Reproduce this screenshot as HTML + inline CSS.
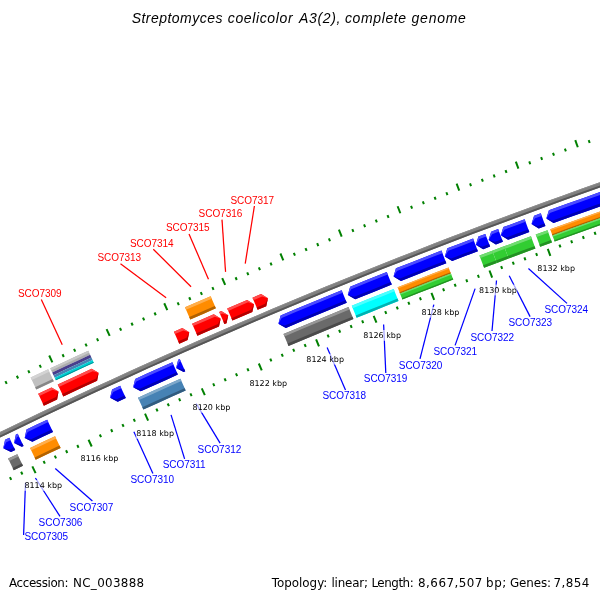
<!DOCTYPE html>
<html><head><meta charset="utf-8"><title>Streptomyces coelicolor A3(2), complete genome</title>
<style>
html,body{margin:0;padding:0;background:#fff;}
svg{display:block;}
text{font-family:"DejaVu Sans","Liberation Sans",sans-serif;}
.tk{font-size:8px;text-rendering:geometricPrecision;fill:#000;}
.lb{font-family:"Liberation Sans","DejaVu Sans",sans-serif;font-size:10px;letter-spacing:-0.05px;}
.ti{font-family:'Liberation Sans','DejaVu Sans',sans-serif;font-size:14px;font-style:italic;fill:#000;}
.ft{font-size:11.9px;fill:#000;}
</style></head><body>
<svg width="600" height="600" viewBox="0 0 600 600">
<rect width="600" height="600" fill="#ffffff"/>
<polygon points="-47.20,455.06 -29.71,446.45 -12.19,437.89 5.35,429.40 22.93,420.96 40.53,412.58 58.16,404.26 75.82,396.00 93.51,387.80 111.23,379.66 128.97,371.58 146.74,363.56 164.53,355.59 182.35,347.69 200.20,339.85 218.08,332.06 235.98,324.34 253.90,316.68 271.85,309.07 289.83,301.53 307.83,294.05 325.86,286.62 343.91,279.26 361.99,271.96 380.09,264.72 398.21,257.54 416.36,250.42 434.54,243.36 452.73,236.36 470.95,229.42 489.19,222.55 507.46,215.73 525.75,208.98 544.06,202.29 562.39,195.66 580.75,189.09 599.13,182.58 617.52,176.13 635.94,169.75 654.39,163.43 656.00,168.16 637.57,174.48 619.17,180.85 600.79,187.30 582.42,193.80 564.09,200.36 545.77,206.99 527.47,213.67 509.20,220.42 490.95,227.23 472.72,234.10 454.52,241.03 436.34,248.02 418.18,255.08 400.05,262.19 381.94,269.36 363.85,276.60 345.79,283.90 327.76,291.25 309.74,298.67 291.76,306.14 273.80,313.68 255.86,321.28 237.95,328.94 220.06,336.65 202.20,344.43 184.37,352.27 166.57,360.16 148.79,368.12 131.03,376.13 113.31,384.21 95.61,392.34 77.94,400.54 60.29,408.79 42.67,417.10 25.09,425.47 7.53,433.90 -10.01,442.39 -27.51,450.93 -44.98,459.54" fill="#808080"/>
<polygon points="-47.20,455.06 -29.71,446.45 -12.19,437.89 5.35,429.40 22.93,420.96 40.53,412.58 58.16,404.26 75.82,396.00 93.51,387.80 111.23,379.66 128.97,371.58 146.74,363.56 164.53,355.59 182.35,347.69 200.20,339.85 218.08,332.06 235.98,324.34 253.90,316.68 271.85,309.07 289.83,301.53 307.83,294.05 325.86,286.62 343.91,279.26 361.99,271.96 380.09,264.72 398.21,257.54 416.36,250.42 434.54,243.36 452.73,236.36 470.95,229.42 489.19,222.55 507.46,215.73 525.75,208.98 544.06,202.29 562.39,195.66 580.75,189.09 599.13,182.58 617.52,176.13 635.94,169.75 654.39,163.43 654.64,164.18 636.21,170.50 617.79,176.89 599.39,183.33 581.02,189.84 562.66,196.41 544.33,203.04 526.02,209.73 507.74,216.48 489.48,223.30 471.23,230.17 453.02,237.11 434.82,244.11 416.65,251.16 398.51,258.28 380.38,265.46 362.29,272.70 344.21,280.00 326.16,287.36 308.14,294.79 290.14,302.27 272.16,309.81 254.21,317.41 236.29,325.08 218.39,332.80 200.52,340.58 182.68,348.42 164.86,356.33 147.06,364.29 129.30,372.31 111.56,380.39 93.85,388.53 76.16,396.73 58.51,404.99 40.88,413.30 23.27,421.68 5.70,430.12 -11.84,438.61 -29.36,447.16 -46.85,455.78" fill="#8f8f8f"/>
<polygon points="-45.83,457.84 -28.35,449.23 -10.84,440.68 6.70,432.19 24.27,423.76 41.86,415.38 59.48,407.07 77.13,398.81 94.81,390.62 112.52,382.48 130.25,374.40 148.01,366.38 165.79,358.43 183.60,350.53 201.44,342.69 219.31,334.91 237.20,327.19 255.12,319.53 273.06,311.93 291.03,304.39 309.02,296.91 327.04,289.49 345.08,282.13 363.14,274.84 381.24,267.60 399.35,260.42 417.49,253.31 435.65,246.25 453.84,239.26 472.05,232.32 490.28,225.45 508.54,218.64 526.82,211.89 545.12,205.20 563.44,198.57 581.79,192.01 600.15,185.50 618.54,179.06 636.95,172.68 655.39,166.36 656.00,168.16 637.57,174.48 619.17,180.85 600.79,187.30 582.42,193.80 564.09,200.36 545.77,206.99 527.47,213.67 509.20,220.42 490.95,227.23 472.72,234.10 454.52,241.03 436.34,248.02 418.18,255.08 400.05,262.19 381.94,269.36 363.85,276.60 345.79,283.90 327.76,291.25 309.74,298.67 291.76,306.14 273.80,313.68 255.86,321.28 237.95,328.94 220.06,336.65 202.20,344.43 184.37,352.27 166.57,360.16 148.79,368.12 131.03,376.13 113.31,384.21 95.61,392.34 77.94,400.54 60.29,408.79 42.67,417.10 25.09,425.47 7.53,433.90 -10.01,442.39 -27.51,450.93 -44.98,459.54" fill="#565656"/>
<polygon points="38.21,393.71 51.47,387.47 58.54,391.44 57.08,399.41 43.85,405.64" fill="#ff0000"/>
<polygon points="38.21,393.71 51.47,387.47 58.54,391.44 52.59,389.86 39.34,396.10" fill="#ff4c4c"/>
<polygon points="42.73,403.26 55.96,397.02 58.54,391.44 57.08,399.41 43.85,405.64" fill="#b20000"/>
<polygon points="57.74,384.53 74.66,376.64 91.60,368.81 98.64,372.84 97.12,380.80 80.21,388.61 63.33,396.48" fill="#ff0000"/>
<polygon points="57.74,384.53 74.66,376.64 91.60,368.81 98.64,372.84 92.70,371.21 75.77,379.04 58.86,386.92" fill="#ff4c4c"/>
<polygon points="62.21,394.09 79.10,386.22 96.01,378.40 98.64,372.84 97.12,380.80 80.21,388.61 63.33,396.48" fill="#b20000"/>
<polygon points="173.93,331.68 182.29,328.00 189.26,332.14 187.60,340.08 179.26,343.75" fill="#ff0000"/>
<polygon points="173.93,331.68 182.29,328.00 189.26,332.14 183.35,330.41 175.00,334.09" fill="#ff4c4c"/>
<polygon points="178.20,341.34 186.54,337.66 189.26,332.14 187.60,340.08 179.26,343.75" fill="#b20000"/>
<polygon points="192.12,323.68 202.93,318.96 213.74,314.27 220.69,318.46 218.99,326.38 208.20,331.07 197.41,335.77" fill="#ff0000"/>
<polygon points="192.12,323.68 202.93,318.96 213.74,314.27 220.69,318.46 214.79,316.69 203.98,321.39 193.18,326.10" fill="#ff4c4c"/>
<polygon points="196.35,333.36 207.14,328.65 217.94,323.96 220.69,318.46 218.99,326.38 208.20,331.07 197.41,335.77" fill="#b20000"/>
<polygon points="219.18,311.92 221.30,311.01 228.24,315.20 226.52,323.13 224.41,324.04" fill="#ff0000"/>
<polygon points="219.18,311.92 221.30,311.01 228.24,315.20 222.34,313.43 220.23,314.34" fill="#ff4c4c"/>
<polygon points="223.36,321.62 225.48,320.70 228.24,315.20 226.52,323.13 224.41,324.04" fill="#b20000"/>
<polygon points="227.20,308.47 237.16,304.20 247.13,299.94 254.05,304.17 252.30,312.09 242.35,316.33 232.41,320.59" fill="#ff0000"/>
<polygon points="227.20,308.47 237.16,304.20 247.13,299.94 254.05,304.17 248.16,302.37 238.20,306.62 228.24,310.89" fill="#ff4c4c"/>
<polygon points="231.37,318.17 241.31,313.91 251.26,309.66 254.05,304.17 252.30,312.09 242.35,316.33 232.41,320.59" fill="#b20000"/>
<polygon points="252.48,297.67 261.08,294.03 267.99,298.28 266.22,306.19 257.64,309.82" fill="#ff0000"/>
<polygon points="252.48,297.67 261.08,294.03 267.99,298.28 262.11,296.46 253.52,300.10" fill="#ff4c4c"/>
<polygon points="256.61,307.39 265.19,303.76 267.99,298.28 266.22,306.19 257.64,309.82" fill="#b20000"/>
<polygon points="30.61,377.62 48.19,369.34 53.79,381.30 36.25,389.55" fill="#c0c0c0"/>
<polygon points="30.61,377.62 48.19,369.34 49.31,371.74 31.74,380.00" fill="#d3d3d3"/>
<polygon points="35.12,387.16 52.67,378.91 53.79,381.30 36.25,389.55" fill="#868686"/>
<polygon points="50.28,368.36 62.93,362.46 75.59,356.59 88.27,350.75 90.14,354.83 77.48,360.66 64.82,366.53 52.19,372.43" fill="#acacac"/>
<polygon points="52.19,372.43 64.82,366.53 77.48,360.66 90.14,354.83 91.41,357.58 78.75,363.42 66.11,369.28 53.47,375.18" fill="#483d8b"/>
<polygon points="53.47,375.18 66.11,369.28 78.75,363.42 91.41,357.58 92.57,360.10 79.91,365.93 67.27,371.80 54.65,377.69" fill="#4682b4"/>
<polygon points="54.65,377.69 67.27,371.80 79.91,365.93 92.57,360.10 93.78,362.74 81.13,368.57 68.50,374.43 55.88,380.32" fill="#00ced1"/>
<polygon points="50.28,368.36 62.93,362.46 75.59,356.59 88.27,350.75 89.21,352.79 76.54,358.63 63.88,364.50 51.23,370.40" fill="#c8c8c8"/>
<polygon points="55.49,379.48 68.11,373.59 80.75,367.73 93.40,361.90 93.78,362.74 81.13,368.57 68.50,374.43 55.88,380.32" fill="#009092"/>
<polygon points="184.98,307.37 197.81,301.78 210.65,296.22 215.88,308.33 203.07,313.89 190.28,319.47" fill="#ff8c00"/>
<polygon points="184.98,307.37 197.81,301.78 210.65,296.22 211.69,298.64 198.86,304.20 186.04,309.79" fill="#ffae4c"/>
<polygon points="189.22,317.05 202.02,311.46 214.83,305.91 215.88,308.33 203.07,313.89 190.28,319.47" fill="#b26200"/>
<polygon points="9.32,437.75 5.09,439.80 3.27,448.20 10.98,452.00 15.20,449.96" fill="#0000ff"/>
<polygon points="9.32,437.75 5.09,439.80 3.27,448.20 6.27,442.24 10.49,440.20" fill="#4c4cff"/>
<polygon points="14.02,447.52 9.80,449.56 3.27,448.20 10.98,452.00 15.20,449.96" fill="#0000b2"/>
<polygon points="17.69,433.73 15.89,434.59 14.06,442.99 21.75,446.81 23.55,445.94" fill="#0000ff"/>
<polygon points="17.69,433.73 15.89,434.59 14.06,442.99 17.06,437.04 18.86,436.17" fill="#4c4cff"/>
<polygon points="22.38,443.50 20.58,444.36 14.06,442.99 21.75,446.81 23.55,445.94" fill="#0000b2"/>
<polygon points="47.17,419.67 36.84,424.58 26.51,429.50 24.67,437.89 32.36,441.72 42.66,436.81 52.97,431.92" fill="#0000ff"/>
<polygon points="47.17,419.67 36.84,424.58 26.51,429.50 24.67,437.89 27.68,431.94 38.00,427.02 48.33,422.12" fill="#4c4cff"/>
<polygon points="51.81,429.47 41.49,434.36 31.19,439.28 24.67,437.89 32.36,441.72 42.66,436.81 52.97,431.92" fill="#0000b2"/>
<polygon points="120.18,385.74 112.09,389.44 110.11,397.80 117.74,401.76 125.80,398.07" fill="#0000ff"/>
<polygon points="120.18,385.74 112.09,389.44 110.11,397.80 113.22,391.90 121.30,388.21" fill="#4c4cff"/>
<polygon points="124.68,395.60 116.61,399.29 110.11,397.80 117.74,401.76 125.80,398.07" fill="#0000b2"/>
<polygon points="172.36,362.24 159.95,367.77 147.56,373.33 135.18,378.92 133.16,387.28 140.77,391.26 153.12,385.69 165.49,380.14 177.86,374.62" fill="#0000ff"/>
<polygon points="172.36,362.24 159.95,367.77 147.56,373.33 135.18,378.92 133.16,387.28 136.30,381.39 148.67,375.80 161.06,370.24 173.46,364.71" fill="#4c4cff"/>
<polygon points="176.76,372.14 164.38,377.66 152.01,383.21 139.65,388.79 133.16,387.28 140.77,391.26 153.12,385.69 165.49,380.14 177.86,374.62" fill="#0000b2"/>
<polygon points="179.75,358.95 178.20,359.64 176.11,367.98 183.69,372.03 185.24,371.34" fill="#0000ff"/>
<polygon points="179.75,358.95 178.20,359.64 176.11,367.98 179.30,362.12 180.85,361.43" fill="#4c4cff"/>
<polygon points="184.14,368.87 182.59,369.55 176.11,367.98 183.69,372.03 185.24,371.34" fill="#0000b2"/>
<polygon points="341.64,290.17 326.36,296.42 311.10,302.71 295.85,309.04 280.63,315.41 278.38,323.71 285.88,327.91 301.07,321.54 316.28,315.23 331.50,308.95 346.75,302.72" fill="#0000ff"/>
<polygon points="341.64,290.17 326.36,296.42 311.10,302.71 295.85,309.04 280.63,315.41 278.38,323.71 281.68,317.91 296.90,311.54 312.13,305.21 327.39,298.92 342.66,292.68" fill="#4c4cff"/>
<polygon points="345.72,300.21 330.47,306.45 315.24,312.72 300.03,319.04 284.83,325.41 278.38,323.71 285.88,327.91 301.07,321.54 316.28,315.23 331.50,308.95 346.75,302.72" fill="#0000b2"/>
<polygon points="386.77,272.02 368.45,279.33 350.15,286.71 347.80,294.98 355.24,299.27 373.49,291.91 391.77,284.61" fill="#0000ff"/>
<polygon points="386.77,272.02 368.45,279.33 350.15,286.71 347.80,294.98 351.17,289.23 369.46,281.85 387.77,274.54" fill="#4c4cff"/>
<polygon points="390.77,282.09 372.48,289.39 354.22,296.76 347.80,294.98 355.24,299.27 373.49,291.91 391.77,284.61" fill="#0000b2"/>
<polygon points="441.45,250.60 426.27,256.48 411.11,262.41 395.96,268.37 393.53,276.62 400.94,280.97 416.05,275.02 431.18,269.11 446.33,263.25" fill="#0000ff"/>
<polygon points="441.45,250.60 426.27,256.48 411.11,262.41 395.96,268.37 393.53,276.62 396.96,270.89 412.10,264.93 427.25,259.01 442.43,253.13" fill="#4c4cff"/>
<polygon points="445.36,260.72 430.20,266.59 415.07,272.50 399.94,278.45 393.53,276.62 400.94,280.97 416.05,275.02 431.18,269.11 446.33,263.25" fill="#0000b2"/>
<polygon points="473.08,238.51 460.20,243.41 447.33,248.34 444.82,256.57 452.19,260.99 465.03,256.07 477.88,251.18" fill="#0000ff"/>
<polygon points="473.08,238.51 460.20,243.41 447.33,248.34 444.82,256.57 448.30,250.87 461.16,245.94 474.04,241.04" fill="#4c4cff"/>
<polygon points="476.92,248.65 464.06,253.54 451.22,258.46 444.82,256.57 452.19,260.99 465.03,256.07 477.88,251.18" fill="#0000b2"/>
<polygon points="485.32,233.89 478.41,236.49 475.86,244.70 483.20,249.17 490.10,246.57" fill="#0000ff"/>
<polygon points="485.32,233.89 478.41,236.49 475.86,244.70 479.36,239.03 486.28,236.42" fill="#4c4cff"/>
<polygon points="489.14,244.03 482.24,246.63 475.86,244.70 483.20,249.17 490.10,246.57" fill="#0000b2"/>
<polygon points="498.13,229.08 491.12,231.71 488.55,239.91 495.88,244.39 502.88,241.77" fill="#0000ff"/>
<polygon points="498.13,229.08 491.12,231.71 488.55,239.91 492.07,234.24 499.08,231.62" fill="#4c4cff"/>
<polygon points="501.93,239.23 494.93,241.86 488.55,239.91 495.88,244.39 502.88,241.77" fill="#0000b2"/>
<polygon points="524.64,219.25 514.00,223.17 503.37,227.12 500.79,235.32 508.11,239.82 518.71,235.88 529.32,231.96" fill="#0000ff"/>
<polygon points="524.64,219.25 514.00,223.17 503.37,227.12 500.79,235.32 504.32,229.66 514.94,225.72 525.57,221.79" fill="#4c4cff"/>
<polygon points="528.38,229.42 517.77,233.34 507.16,237.28 500.79,235.32 508.11,239.82 518.71,235.88 529.32,231.96" fill="#0000b2"/>
<polygon points="540.77,213.33 534.11,215.77 531.47,223.95 538.77,228.49 545.41,226.06" fill="#0000ff"/>
<polygon points="540.77,213.33 534.11,215.77 531.47,223.95 535.04,218.31 541.69,215.88" fill="#4c4cff"/>
<polygon points="544.48,223.52 537.83,225.95 531.47,223.95 538.77,228.49 545.41,226.06" fill="#0000b2"/>
<polygon points="657.37,172.18 639.25,178.39 621.14,184.67 603.06,191.00 584.99,197.39 566.95,203.85 548.93,210.36 546.28,218.53 553.56,223.10 571.54,216.60 589.54,210.16 607.56,203.78 625.60,197.46 643.66,191.21 661.74,185.01" fill="#0000ff"/>
<polygon points="657.37,172.18 639.25,178.39 621.14,184.67 603.06,191.00 584.99,197.39 566.95,203.85 548.93,210.36 546.28,218.53 549.86,212.91 567.87,206.40 585.90,199.95 603.96,193.56 622.03,187.23 640.13,180.96 658.25,174.75" fill="#4c4cff"/>
<polygon points="660.87,182.44 642.78,188.64 624.71,194.91 606.66,201.23 588.63,207.61 570.62,214.05 552.63,220.55 546.28,218.53 553.56,223.10 571.54,216.60 589.54,210.16 607.56,203.78 625.60,197.46 643.66,191.21 661.74,185.01" fill="#0000b2"/>
<polygon points="8.10,458.61 17.33,454.15 22.98,465.86 13.76,470.31" fill="#6a6a6a"/>
<polygon points="8.10,458.61 17.33,454.15 18.46,456.49 9.23,460.95" fill="#979797"/>
<polygon points="12.63,467.97 21.85,463.52 22.98,465.86 13.76,470.31" fill="#4a4a4a"/>
<polygon points="30.07,448.03 42.56,442.06 55.07,436.13 60.63,447.88 48.15,453.80 35.69,459.75" fill="#ff8c00"/>
<polygon points="30.07,448.03 42.56,442.06 55.07,436.13 56.18,438.48 43.68,444.41 31.20,450.37" fill="#ffae4c"/>
<polygon points="34.57,457.41 47.03,451.45 59.52,445.53 60.63,447.88 48.15,453.80 35.69,459.75" fill="#b26200"/>
<polygon points="137.99,397.68 152.11,391.29 166.25,384.94 180.41,378.63 185.69,390.51 171.56,396.81 157.46,403.14 143.37,409.52" fill="#4682b4"/>
<polygon points="137.99,397.68 152.11,391.29 166.25,384.94 180.41,378.63 181.47,381.00 167.32,387.32 153.18,393.66 139.07,400.05" fill="#7ea8ca"/>
<polygon points="142.29,407.15 156.39,400.77 170.50,394.43 184.63,388.13 185.69,390.51 171.56,396.81 157.46,403.14 143.37,409.52" fill="#315b7e"/>
<polygon points="283.48,334.02 299.71,327.21 315.96,320.45 332.23,313.74 348.52,307.07 353.42,319.12 337.17,325.76 320.93,332.46 304.72,339.20 288.53,346.00" fill="#6a6a6a"/>
<polygon points="283.48,334.02 299.71,327.21 315.96,320.45 332.23,313.74 348.52,307.07 349.50,309.48 333.22,316.14 316.95,322.85 300.71,329.61 284.49,336.41" fill="#979797"/>
<polygon points="287.52,343.60 303.72,336.80 319.94,330.05 336.18,323.36 352.44,316.71 353.42,319.12 337.17,325.76 320.93,332.46 304.72,339.20 288.53,346.00" fill="#4a4a4a"/>
<polygon points="351.75,305.76 365.71,300.11 379.69,294.49 393.69,288.90 398.49,300.99 384.53,306.56 370.58,312.16 356.64,317.80" fill="#00ffff"/>
<polygon points="351.75,305.76 365.71,300.11 379.69,294.49 393.69,288.90 394.65,291.32 380.66,296.90 366.69,302.52 352.73,308.17" fill="#4cffff"/>
<polygon points="355.66,315.40 369.60,309.75 383.56,304.14 397.53,298.57 398.49,300.99 384.53,306.56 370.58,312.16 356.64,317.80" fill="#00b2b2"/>
<polygon points="397.58,287.36 414.56,280.66 431.56,274.01 448.58,267.42 450.92,273.48 433.92,280.07 416.93,286.71 399.97,293.40" fill="#ff8c00"/>
<polygon points="397.58,287.36 414.56,280.66 431.56,274.01 448.58,267.42 449.05,268.63 432.03,275.22 415.03,281.87 398.06,288.57" fill="#ffae4c"/>
<polygon points="399.49,292.20 416.46,285.50 433.44,278.86 450.45,272.27 450.92,273.48 433.92,280.07 416.93,286.71 399.97,293.40" fill="#b26200"/>
<polygon points="399.97,293.40 416.93,286.71 433.92,280.07 450.92,273.48 453.26,279.55 436.27,286.13 419.31,292.76 402.37,299.45" fill="#32cd32"/>
<polygon points="399.97,293.40 416.93,286.71 433.92,280.07 450.92,273.48 451.39,274.69 434.39,281.28 417.41,287.92 400.45,294.61" fill="#70dc70"/>
<polygon points="401.89,298.24 418.84,291.55 435.80,284.91 452.79,278.33 453.26,279.55 436.27,286.13 419.31,292.76 402.37,299.45" fill="#239023"/>
<polygon points="479.46,255.61 492.22,250.79 496.80,262.96 484.07,267.77" fill="#32cd32"/>
<polygon points="479.46,255.61 492.22,250.79 493.13,253.22 480.38,258.04" fill="#70dc70"/>
<polygon points="483.14,265.33 495.88,260.52 496.80,262.96 484.07,267.77" fill="#239023"/>
<polygon points="492.22,250.79 504.06,246.35 508.61,258.52 496.80,262.96" fill="#32cd32"/>
<polygon points="492.22,250.79 504.06,246.35 504.97,248.78 493.13,253.22" fill="#70dc70"/>
<polygon points="495.88,260.52 507.70,256.09 508.61,258.52 496.80,262.96" fill="#239023"/>
<polygon points="504.06,246.35 517.49,241.34 530.94,236.37 535.44,248.57 522.02,253.53 508.61,258.52" fill="#32cd32"/>
<polygon points="504.06,246.35 517.49,241.34 530.94,236.37 531.84,238.81 518.40,243.78 504.97,248.78" fill="#70dc70"/>
<polygon points="507.70,256.09 521.11,251.09 534.54,246.13 535.44,248.57 522.02,253.53 508.61,258.52" fill="#239023"/>
<polygon points="535.71,234.62 547.49,230.31 551.95,242.52 540.19,246.82" fill="#32cd32"/>
<polygon points="535.71,234.62 547.49,230.31 548.38,232.75 536.60,237.06" fill="#70dc70"/>
<polygon points="539.29,244.38 551.05,240.08 551.95,242.52 540.19,246.82" fill="#239023"/>
<polygon points="550.20,229.32 566.30,223.48 582.42,217.69 598.56,211.95 614.71,206.25 630.88,200.60 647.06,195.01 663.26,189.45 665.36,195.61 649.18,201.15 633.01,206.74 616.86,212.38 600.73,218.07 584.61,223.81 568.51,229.59 552.43,235.42" fill="#ff8c00"/>
<polygon points="550.20,229.32 566.30,223.48 582.42,217.69 598.56,211.95 614.71,206.25 630.88,200.60 647.06,195.01 663.26,189.45 663.68,190.68 647.48,196.23 631.30,201.83 615.14,207.48 598.99,213.17 582.86,218.91 566.74,224.70 550.65,230.54" fill="#ffae4c"/>
<polygon points="551.98,234.20 568.07,228.37 584.17,222.59 600.29,216.85 616.43,211.16 632.58,205.52 648.75,199.92 664.94,194.38 665.36,195.61 649.18,201.15 633.01,206.74 616.86,212.38 600.73,218.07 584.61,223.81 568.51,229.59 552.43,235.42" fill="#b26200"/>
<polygon points="552.43,235.42 568.51,229.59 584.61,223.81 600.73,218.07 616.86,212.38 633.01,206.74 649.18,201.15 665.36,195.61 667.46,201.76 651.29,207.30 635.14,212.88 619.01,218.52 602.90,224.20 586.80,229.93 570.72,235.71 554.65,241.53" fill="#32cd32"/>
<polygon points="552.43,235.42 568.51,229.59 584.61,223.81 600.73,218.07 616.86,212.38 633.01,206.74 649.18,201.15 665.36,195.61 665.78,196.84 649.60,202.38 633.44,207.97 617.29,213.61 601.16,219.30 585.05,225.03 568.95,230.82 552.87,236.65" fill="#70dc70"/>
<polygon points="554.21,240.31 570.28,234.48 586.36,228.71 602.46,222.97 618.58,217.29 634.72,211.66 650.87,206.07 667.04,200.53 667.46,201.76 651.29,207.30 635.14,212.88 619.01,218.52 602.90,224.20 586.80,229.93 570.72,235.71 554.65,241.53" fill="#239023"/>
<line x1="6.72" y1="383.87" x2="5.43" y2="381.17" stroke="#008000" stroke-width="2"/>
<line x1="18.12" y1="378.45" x2="16.83" y2="375.74" stroke="#008000" stroke-width="2"/>
<line x1="29.52" y1="373.04" x2="28.24" y2="370.33" stroke="#008000" stroke-width="2"/>
<line x1="40.94" y1="367.66" x2="39.67" y2="364.95" stroke="#008000" stroke-width="2"/>
<line x1="52.37" y1="362.31" x2="49.20" y2="355.51" stroke="#008000" stroke-width="2"/>
<line x1="63.81" y1="356.98" x2="62.55" y2="354.26" stroke="#008000" stroke-width="2"/>
<line x1="75.26" y1="351.67" x2="74.01" y2="348.95" stroke="#008000" stroke-width="2"/>
<line x1="86.73" y1="346.39" x2="85.47" y2="343.67" stroke="#008000" stroke-width="2"/>
<line x1="98.20" y1="341.14" x2="96.96" y2="338.41" stroke="#008000" stroke-width="2"/>
<line x1="109.69" y1="335.91" x2="106.59" y2="329.08" stroke="#008000" stroke-width="2"/>
<line x1="121.19" y1="330.70" x2="119.95" y2="327.97" stroke="#008000" stroke-width="2"/>
<line x1="132.69" y1="325.52" x2="131.47" y2="322.78" stroke="#008000" stroke-width="2"/>
<line x1="144.21" y1="320.36" x2="142.99" y2="317.62" stroke="#008000" stroke-width="2"/>
<line x1="155.75" y1="315.23" x2="154.53" y2="312.49" stroke="#008000" stroke-width="2"/>
<line x1="167.29" y1="310.13" x2="164.26" y2="303.26" stroke="#008000" stroke-width="2"/>
<line x1="178.84" y1="305.04" x2="177.64" y2="302.30" stroke="#008000" stroke-width="2"/>
<line x1="190.40" y1="299.99" x2="189.21" y2="297.24" stroke="#008000" stroke-width="2"/>
<line x1="201.98" y1="294.95" x2="200.79" y2="292.20" stroke="#008000" stroke-width="2"/>
<line x1="213.56" y1="289.95" x2="212.38" y2="287.19" stroke="#008000" stroke-width="2"/>
<line x1="225.16" y1="284.97" x2="222.21" y2="278.07" stroke="#008000" stroke-width="2"/>
<line x1="236.77" y1="280.01" x2="235.59" y2="277.25" stroke="#008000" stroke-width="2"/>
<line x1="248.39" y1="275.08" x2="247.22" y2="272.31" stroke="#008000" stroke-width="2"/>
<line x1="260.01" y1="270.17" x2="258.85" y2="267.40" stroke="#008000" stroke-width="2"/>
<line x1="271.65" y1="265.29" x2="270.50" y2="262.52" stroke="#008000" stroke-width="2"/>
<line x1="283.30" y1="260.43" x2="280.42" y2="253.50" stroke="#008000" stroke-width="2"/>
<line x1="294.96" y1="255.60" x2="293.82" y2="252.83" stroke="#008000" stroke-width="2"/>
<line x1="306.63" y1="250.79" x2="305.49" y2="248.02" stroke="#008000" stroke-width="2"/>
<line x1="318.31" y1="246.01" x2="317.18" y2="243.23" stroke="#008000" stroke-width="2"/>
<line x1="330.00" y1="241.25" x2="328.88" y2="238.47" stroke="#008000" stroke-width="2"/>
<line x1="341.70" y1="236.52" x2="338.90" y2="229.57" stroke="#008000" stroke-width="2"/>
<line x1="353.42" y1="231.82" x2="352.30" y2="229.03" stroke="#008000" stroke-width="2"/>
<line x1="365.14" y1="227.13" x2="364.03" y2="224.35" stroke="#008000" stroke-width="2"/>
<line x1="376.87" y1="222.48" x2="375.76" y2="219.69" stroke="#008000" stroke-width="2"/>
<line x1="388.61" y1="217.85" x2="387.51" y2="215.06" stroke="#008000" stroke-width="2"/>
<line x1="400.36" y1="213.24" x2="397.63" y2="206.26" stroke="#008000" stroke-width="2"/>
<line x1="412.12" y1="208.66" x2="411.04" y2="205.87" stroke="#008000" stroke-width="2"/>
<line x1="423.89" y1="204.11" x2="422.81" y2="201.31" stroke="#008000" stroke-width="2"/>
<line x1="435.67" y1="199.58" x2="434.60" y2="196.78" stroke="#008000" stroke-width="2"/>
<line x1="447.46" y1="195.08" x2="446.40" y2="192.27" stroke="#008000" stroke-width="2"/>
<line x1="459.26" y1="190.60" x2="456.61" y2="183.58" stroke="#008000" stroke-width="2"/>
<line x1="471.07" y1="186.15" x2="470.02" y2="183.34" stroke="#008000" stroke-width="2"/>
<line x1="482.89" y1="181.72" x2="481.84" y2="178.91" stroke="#008000" stroke-width="2"/>
<line x1="494.72" y1="177.32" x2="493.68" y2="174.50" stroke="#008000" stroke-width="2"/>
<line x1="506.56" y1="172.94" x2="505.52" y2="170.12" stroke="#008000" stroke-width="2"/>
<line x1="518.41" y1="168.59" x2="515.83" y2="161.55" stroke="#008000" stroke-width="2"/>
<line x1="530.26" y1="164.26" x2="529.24" y2="161.44" stroke="#008000" stroke-width="2"/>
<line x1="542.13" y1="159.96" x2="541.11" y2="157.14" stroke="#008000" stroke-width="2"/>
<line x1="554.01" y1="155.69" x2="552.99" y2="152.87" stroke="#008000" stroke-width="2"/>
<line x1="565.89" y1="151.44" x2="564.88" y2="148.61" stroke="#008000" stroke-width="2"/>
<line x1="577.78" y1="147.22" x2="575.28" y2="140.15" stroke="#008000" stroke-width="2"/>
<line x1="589.69" y1="143.02" x2="588.69" y2="140.19" stroke="#008000" stroke-width="2"/>
<line x1="9.94" y1="477.17" x2="11.25" y2="479.87" stroke="#008000" stroke-width="2"/>
<line x1="21.13" y1="471.75" x2="22.44" y2="474.45" stroke="#008000" stroke-width="2"/>
<line x1="32.34" y1="466.35" x2="35.58" y2="473.11" stroke="#008000" stroke-width="2"/>
<line x1="43.55" y1="460.98" x2="44.85" y2="463.68" stroke="#008000" stroke-width="2"/>
<line x1="54.78" y1="455.63" x2="56.07" y2="458.34" stroke="#008000" stroke-width="2"/>
<line x1="66.02" y1="450.30" x2="67.30" y2="453.02" stroke="#008000" stroke-width="2"/>
<line x1="77.27" y1="445.00" x2="78.55" y2="447.72" stroke="#008000" stroke-width="2"/>
<line x1="88.54" y1="439.73" x2="91.71" y2="446.52" stroke="#008000" stroke-width="2"/>
<line x1="99.81" y1="434.48" x2="101.07" y2="437.20" stroke="#008000" stroke-width="2"/>
<line x1="111.10" y1="429.25" x2="112.35" y2="431.97" stroke="#008000" stroke-width="2"/>
<line x1="122.39" y1="424.05" x2="123.64" y2="426.77" stroke="#008000" stroke-width="2"/>
<line x1="133.70" y1="418.87" x2="134.95" y2="421.60" stroke="#008000" stroke-width="2"/>
<line x1="145.02" y1="413.71" x2="148.12" y2="420.54" stroke="#008000" stroke-width="2"/>
<line x1="156.35" y1="408.58" x2="157.58" y2="411.32" stroke="#008000" stroke-width="2"/>
<line x1="167.69" y1="403.48" x2="168.92" y2="406.21" stroke="#008000" stroke-width="2"/>
<line x1="179.04" y1="398.40" x2="180.26" y2="401.13" stroke="#008000" stroke-width="2"/>
<line x1="190.40" y1="393.34" x2="191.62" y2="396.08" stroke="#008000" stroke-width="2"/>
<line x1="201.78" y1="388.31" x2="204.81" y2="395.17" stroke="#008000" stroke-width="2"/>
<line x1="213.16" y1="383.30" x2="214.37" y2="386.05" stroke="#008000" stroke-width="2"/>
<line x1="224.56" y1="378.31" x2="225.76" y2="381.06" stroke="#008000" stroke-width="2"/>
<line x1="235.96" y1="373.36" x2="237.16" y2="376.11" stroke="#008000" stroke-width="2"/>
<line x1="247.38" y1="368.42" x2="248.57" y2="371.18" stroke="#008000" stroke-width="2"/>
<line x1="258.81" y1="363.51" x2="261.76" y2="370.41" stroke="#008000" stroke-width="2"/>
<line x1="270.25" y1="358.63" x2="271.42" y2="361.39" stroke="#008000" stroke-width="2"/>
<line x1="281.69" y1="353.77" x2="282.86" y2="356.53" stroke="#008000" stroke-width="2"/>
<line x1="293.15" y1="348.93" x2="294.32" y2="351.70" stroke="#008000" stroke-width="2"/>
<line x1="304.62" y1="344.12" x2="305.78" y2="346.89" stroke="#008000" stroke-width="2"/>
<line x1="316.10" y1="339.33" x2="318.98" y2="346.26" stroke="#008000" stroke-width="2"/>
<line x1="327.59" y1="334.57" x2="328.74" y2="337.35" stroke="#008000" stroke-width="2"/>
<line x1="339.09" y1="329.84" x2="340.23" y2="332.61" stroke="#008000" stroke-width="2"/>
<line x1="350.60" y1="325.12" x2="351.73" y2="327.90" stroke="#008000" stroke-width="2"/>
<line x1="362.12" y1="320.44" x2="363.25" y2="323.22" stroke="#008000" stroke-width="2"/>
<line x1="373.65" y1="315.77" x2="376.46" y2="322.73" stroke="#008000" stroke-width="2"/>
<line x1="385.19" y1="311.14" x2="386.31" y2="313.92" stroke="#008000" stroke-width="2"/>
<line x1="396.74" y1="306.52" x2="397.85" y2="309.31" stroke="#008000" stroke-width="2"/>
<line x1="408.30" y1="301.94" x2="409.41" y2="304.73" stroke="#008000" stroke-width="2"/>
<line x1="419.87" y1="297.37" x2="420.97" y2="300.17" stroke="#008000" stroke-width="2"/>
<line x1="431.45" y1="292.84" x2="434.18" y2="299.82" stroke="#008000" stroke-width="2"/>
<line x1="443.04" y1="288.32" x2="444.13" y2="291.12" stroke="#008000" stroke-width="2"/>
<line x1="454.64" y1="283.84" x2="455.72" y2="286.63" stroke="#008000" stroke-width="2"/>
<line x1="466.25" y1="279.37" x2="467.32" y2="282.17" stroke="#008000" stroke-width="2"/>
<line x1="477.87" y1="274.93" x2="478.94" y2="277.74" stroke="#008000" stroke-width="2"/>
<line x1="489.50" y1="270.52" x2="492.15" y2="277.54" stroke="#008000" stroke-width="2"/>
<line x1="501.13" y1="266.13" x2="502.19" y2="268.94" stroke="#008000" stroke-width="2"/>
<line x1="512.78" y1="261.77" x2="513.83" y2="264.58" stroke="#008000" stroke-width="2"/>
<line x1="524.44" y1="257.43" x2="525.48" y2="260.25" stroke="#008000" stroke-width="2"/>
<line x1="536.10" y1="253.12" x2="537.14" y2="255.93" stroke="#008000" stroke-width="2"/>
<line x1="547.78" y1="248.83" x2="550.36" y2="255.88" stroke="#008000" stroke-width="2"/>
<line x1="559.46" y1="244.57" x2="560.49" y2="247.39" stroke="#008000" stroke-width="2"/>
<line x1="571.16" y1="240.33" x2="572.17" y2="243.15" stroke="#008000" stroke-width="2"/>
<line x1="582.86" y1="236.12" x2="583.87" y2="238.94" stroke="#008000" stroke-width="2"/>
<line x1="594.57" y1="231.93" x2="595.58" y2="234.76" stroke="#008000" stroke-width="2"/>
<line x1="62.25" y1="344.64" x2="41.3" y2="299.5" stroke="#ff0000" stroke-width="1.25"/>
<line x1="166.10" y1="297.70" x2="120.5" y2="263.7" stroke="#ff0000" stroke-width="1.25"/>
<line x1="191.06" y1="286.78" x2="153.3" y2="249.2" stroke="#ff0000" stroke-width="1.25"/>
<line x1="208.48" y1="279.24" x2="189" y2="234" stroke="#ff0000" stroke-width="1.25"/>
<line x1="225.55" y1="271.91" x2="222" y2="219.6" stroke="#ff0000" stroke-width="1.25"/>
<line x1="245.24" y1="263.54" x2="254.4" y2="206" stroke="#ff0000" stroke-width="1.25"/>
<line x1="25.50" y1="482.74" x2="23.6" y2="535" stroke="#0000ff" stroke-width="1.25"/>
<line x1="35.41" y1="477.97" x2="60" y2="516.4" stroke="#0000ff" stroke-width="1.25"/>
<line x1="55.25" y1="468.47" x2="92.4" y2="501" stroke="#0000ff" stroke-width="1.25"/>
<line x1="133.88" y1="431.76" x2="152.9" y2="473.4" stroke="#0000ff" stroke-width="1.25"/>
<line x1="171.05" y1="414.90" x2="184.6" y2="458.9" stroke="#0000ff" stroke-width="1.25"/>
<line x1="196.20" y1="403.68" x2="220.1" y2="443.1" stroke="#0000ff" stroke-width="1.25"/>
<line x1="327.13" y1="347.53" x2="345.5" y2="390" stroke="#0000ff" stroke-width="1.25"/>
<line x1="383.63" y1="324.48" x2="385.8" y2="373" stroke="#0000ff" stroke-width="1.25"/>
<line x1="433.82" y1="304.58" x2="420" y2="358.8" stroke="#0000ff" stroke-width="1.25"/>
<line x1="475.12" y1="288.61" x2="455.1" y2="345.4" stroke="#0000ff" stroke-width="1.25"/>
<line x1="496.51" y1="280.48" x2="492" y2="331" stroke="#0000ff" stroke-width="1.25"/>
<line x1="509.22" y1="275.70" x2="530.1" y2="316.6" stroke="#0000ff" stroke-width="1.25"/>
<line x1="528.43" y1="268.54" x2="567" y2="303.4" stroke="#0000ff" stroke-width="1.25"/>
<rect x="23.9" y="480.0" width="38.6" height="10.8" fill="#ffffff" fill-opacity="0.64"/>
<rect x="80.1" y="452.6" width="38.6" height="10.8" fill="#ffffff" fill-opacity="0.64"/>
<rect x="135.8" y="427.9" width="38.6" height="10.8" fill="#ffffff" fill-opacity="0.64"/>
<rect x="192.1" y="401.9" width="38.6" height="10.8" fill="#ffffff" fill-opacity="0.64"/>
<rect x="248.9" y="377.9" width="38.6" height="10.8" fill="#ffffff" fill-opacity="0.64"/>
<rect x="305.8" y="353.8" width="38.6" height="10.8" fill="#ffffff" fill-opacity="0.64"/>
<rect x="362.8" y="330.0" width="38.6" height="10.8" fill="#ffffff" fill-opacity="0.64"/>
<rect x="421.1" y="306.9" width="38.6" height="10.8" fill="#ffffff" fill-opacity="0.64"/>
<rect x="478.6" y="284.6" width="38.6" height="10.8" fill="#ffffff" fill-opacity="0.64"/>
<rect x="536.8" y="262.6" width="38.6" height="10.8" fill="#ffffff" fill-opacity="0.64"/>
<text x="24.4" y="488" class="tk">8114 kbp</text>
<text x="80.6" y="460.6" class="tk">8116 kbp</text>
<text x="136.3" y="435.9" class="tk">8118 kbp</text>
<text x="192.6" y="409.9" class="tk">8120 kbp</text>
<text x="249.4" y="385.9" class="tk">8122 kbp</text>
<text x="306.3" y="361.8" class="tk">8124 kbp</text>
<text x="363.3" y="338" class="tk">8126 kbp</text>
<text x="421.6" y="314.9" class="tk">8128 kbp</text>
<text x="479.1" y="292.6" class="tk">8130 kbp</text>
<text x="537.3" y="270.6" class="tk">8132 kbp</text>
<text x="18" y="296.7" class="lb" fill="#ff0000">SCO7309</text>
<text x="97.5" y="260.8" class="lb" fill="#ff0000">SCO7313</text>
<text x="130" y="246.7" class="lb" fill="#ff0000">SCO7314</text>
<text x="166" y="230.8" class="lb" fill="#ff0000">SCO7315</text>
<text x="198.6" y="216.8" class="lb" fill="#ff0000">SCO7316</text>
<text x="230.4" y="203.6" class="lb" fill="#ff0000">SCO7317</text>
<text x="24.4" y="540" class="lb" fill="#0000ff">SCO7305</text>
<text x="38.6" y="526" class="lb" fill="#0000ff">SCO7306</text>
<text x="69.6" y="511" class="lb" fill="#0000ff">SCO7307</text>
<text x="130.4" y="482.7" class="lb" fill="#0000ff">SCO7310</text>
<text x="162.7" y="467.6" class="lb" fill="#0000ff">SCO7311</text>
<text x="197.6" y="452.8" class="lb" fill="#0000ff">SCO7312</text>
<text x="322.5" y="399" class="lb" fill="#0000ff">SCO7318</text>
<text x="363.8" y="381.8" class="lb" fill="#0000ff">SCO7319</text>
<text x="398.8" y="368.8" class="lb" fill="#0000ff">SCO7320</text>
<text x="433.5" y="354.8" class="lb" fill="#0000ff">SCO7321</text>
<text x="470.4" y="340.7" class="lb" fill="#0000ff">SCO7322</text>
<text x="508.5" y="325.6" class="lb" fill="#0000ff">SCO7323</text>
<text x="544.5" y="312.9" class="lb" fill="#0000ff">SCO7324</text>
<text y="23.2" class="ti"><tspan x="131.7" style="letter-spacing:0.47px">Streptomyces </tspan><tspan x="227.8" style="letter-spacing:0.63px">coelicolor </tspan><tspan x="299.1" style="letter-spacing:0.64px">A3(2), </tspan><tspan x="345.0" style="letter-spacing:0.62px">complete </tspan><tspan x="411.6" style="letter-spacing:0.73px">genome</tspan></text>
<text y="586.8" class="ft"><tspan x="9.0" style="letter-spacing:-0.37px">Accession: </tspan><tspan x="73.0" style="letter-spacing:0.33px">NC_003888</tspan></text>
<text y="586.8" class="ft"><tspan x="271.7" style="letter-spacing:0px">Topology: </tspan><tspan x="331.4" style="letter-spacing:-0.18px">linear; </tspan><tspan x="371.4" style="letter-spacing:-0.45px">Length: </tspan><tspan x="418.0" style="letter-spacing:0.49px">8,667,507 </tspan><tspan x="486.0" style="letter-spacing:0.6px">bp; </tspan><tspan x="510.0" style="letter-spacing:-0.1px">Genes: </tspan><tspan x="553.6" style="letter-spacing:0.4px">7,854</tspan></text>
</svg>
</body></html>
